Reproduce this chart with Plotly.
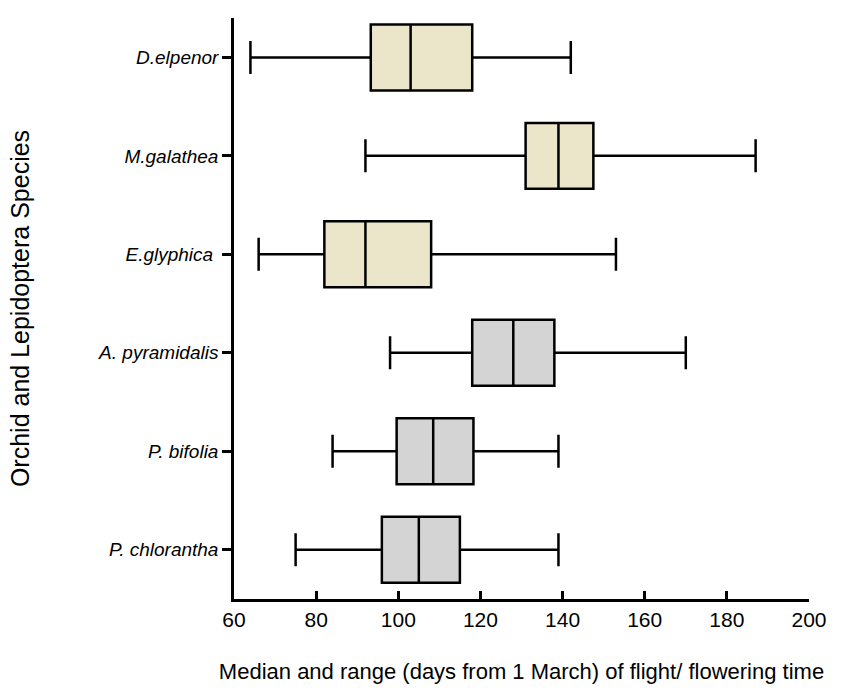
import plotly.graph_objects as go

categories = ["P. chlorantha", "P. bifolia", "A. pyramidalis", "E.glyphica ", "M.galathea", "D.elpenor"]

# Lepidoptera (beige) and orchids (grey)
lep_species = ["E.glyphica ", "M.galathea", "D.elpenor"]
lep_min = [66, 92, 64]
lep_q1 = [82, 131, 93.3]
lep_median = [92, 139, 103]
lep_q3 = [108, 147.5, 118]
lep_max = [153, 187, 142]

orc_species = ["P. chlorantha", "P. bifolia", "A. pyramidalis"]
orc_min = [75, 84, 98]
orc_q1 = [96, 99.6, 118]
orc_median = [105, 108.5, 128]
orc_q3 = [115, 118.3, 138]
orc_max = [139, 139, 170]

x_ticks = [60, 80, 100, 120, 140, 160, 180, 200]

fig = go.Figure()
fig.add_trace(go.Box(
    y=lep_species, q1=lep_q1, median=lep_median, q3=lep_q3,
    lowerfence=lep_min, upperfence=lep_max, orientation="h",
    fillcolor="#EBE6C9", line=dict(color="black", width=2.5),
    width=0.67, whiskerwidth=0.5, boxpoints=False, showlegend=False,
    hoverinfo="skip"))
fig.add_trace(go.Box(
    y=orc_species, q1=orc_q1, median=orc_median, q3=orc_q3,
    lowerfence=orc_min, upperfence=orc_max, orientation="h",
    fillcolor="#D4D4D4", line=dict(color="black", width=2.5),
    width=0.67, whiskerwidth=0.5, boxpoints=False, showlegend=False,
    hoverinfo="skip"))

fig.update_layout(
    width=857, height=693,
    margin=dict(l=234, r=48, t=18, b=94),
    plot_bgcolor="white", paper_bgcolor="white",
    font=dict(family="Liberation Sans, Arial, sans-serif", color="black"),
    boxmode="overlay",
)
fig.update_xaxes(
    range=[60, 200], tickvals=x_ticks, ticks="inside", ticklen=8, tickwidth=2.5,
    tickcolor="black", showline=True, linecolor="black", linewidth=2.5,
    showgrid=False, zeroline=False, tickfont=dict(size=21),
    title=dict(text="Median and range (days from 1 March) of flight/ flowering time",
               font=dict(size=22), standoff=34),
)
fig.update_yaxes(
    categoryorder="array", categoryarray=categories, range=[-0.5, 5.4],
    ticks="outside", ticklen=9, tickwidth=2.5, tickcolor="black",
    showline=True, linecolor="black", linewidth=2.5, showgrid=False, zeroline=False,
    tickfont=dict(size=19, style="italic"),
    title=dict(text="Orchid and Lepidoptera Species", font=dict(size=25), standoff=62),
)

fig.write_html("out.html")
